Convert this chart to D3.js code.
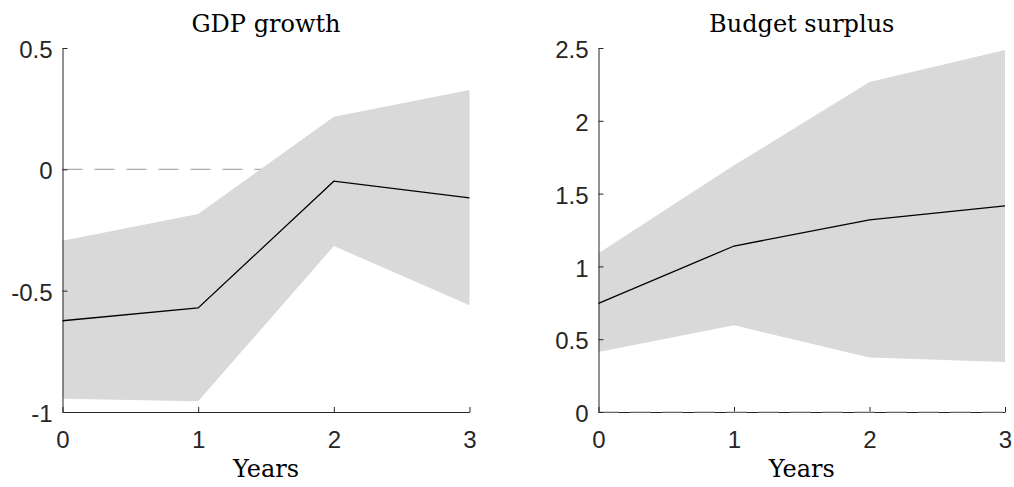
<!DOCTYPE html>
<html>
<head>
<meta charset="utf-8">
<script src="https://cdn.jsdelivr.net/npm/d3@7"></script>
<style>
  html, body { margin: 0; padding: 0; background: #fff; }
  svg { display: block; }
</style>
</head>
<body>
<svg id="chart" width="1014" height="487"></svg>
<script>
// ---- data ----
const years = [0, 1, 2, 3];
const xTicks = [0, 1, 2, 3];

const gdpMedian = [-0.624, -0.571, -0.049, -0.118];
const gdpUpper  = [-0.294, -0.184, 0.217, 0.327];
const gdpLower  = [-0.945, -0.956, -0.316, -0.560];
const gdpTicks  = [-1, -0.5, 0, 0.5];
const gdpDomain = [-1, 0.5];

const budMedian = [0.746, 1.140, 1.319, 1.415];
const budUpper  = [1.090, 1.694, 2.266, 2.486];
const budLower  = [0.412, 0.595, 0.375, 0.343];
const budTicks  = [0, 0.5, 1, 1.5, 2, 2.5];
const budDomain = [0, 2.5];

const titles = ["GDP growth", "Budget surplus"];
const xLabel = "Years";

// ---- drawing ----
const svg = d3.select("#chart");
const axisColor = "#262626";
const tickFont = "'Liberation Sans', Arial, sans-serif";
const serifFont = "'DejaVu Serif', serif";
const tickSize = 24;

const panels = [
  { title: titles[0], med: gdpMedian, up: gdpUpper, lo: gdpLower, ticks: gdpTicks, domain: gdpDomain, x0: 62.5, x1: 469.5 },
  { title: titles[1], med: budMedian, up: budUpper, lo: budLower, ticks: budTicks, domain: budDomain, x0: 598.5, x1: 1005 }
];
const yTop = 48, yBot = 412;

panels.forEach(p => {
  const g = svg.append("g");
  const x = d3.scaleLinear().domain([0, 3]).range([p.x0, p.x1]);
  const y = d3.scaleLinear().domain(p.domain).range([yBot, yTop]);

  // x axis (bottom), inward ticks
  const xAxis = g.append("g").attr("transform", `translate(0,${yBot})`)
    .call(d3.axisBottom(x).tickValues(xTicks).tickSize(-5).tickSizeOuter(0).tickPadding(0).tickFormat(d3.format("d")));
  xAxis.select(".domain").attr("stroke", axisColor).attr("stroke-width", 1);
  xAxis.selectAll(".tick line").attr("stroke", axisColor);
  xAxis.selectAll(".tick text")
    .attr("font-family", tickFont).attr("font-size", tickSize).attr("fill", axisColor)
    .attr("dy", null).attr("y", 36);

  // zero dashed line
  g.append("line")
    .attr("x1", p.x0).attr("x2", p.x1)
    .attr("y1", y(0)).attr("y2", y(0))
    .attr("stroke", "#aaaaaa").attr("stroke-width", 1.2)
    .attr("stroke-dasharray", "20,12");

  // band
  const area = d3.area()
    .x((d, i) => x(years[i]))
    .y0((d, i) => y(p.lo[i]))
    .y1((d, i) => y(p.up[i]));
  g.append("path").datum(years).attr("d", area).attr("fill", "#d9d9d9").attr("stroke", "none");

  // y axis (left), inward ticks
  const yAxis = g.append("g").attr("transform", `translate(${p.x0},0)`)
    .call(d3.axisLeft(y).tickValues(p.ticks).tickSize(-5).tickSizeOuter(0).tickPadding(0).tickFormat(d => String(d)));
  yAxis.select(".domain").attr("stroke", axisColor).attr("stroke-width", 1);
  yAxis.selectAll(".tick line").attr("stroke", axisColor);
  yAxis.selectAll(".tick text")
    .attr("font-family", tickFont).attr("font-size", tickSize).attr("fill", axisColor)
    .attr("x", -10).attr("dy", "0.4em");

  // median line
  const line = d3.line().x((d, i) => x(years[i])).y(d => y(d));
  g.append("path").datum(p.med).attr("d", line)
    .attr("fill", "none").attr("stroke", "#000").attr("stroke-width", 1.3);

  // title
  g.append("text")
    .attr("x", (p.x0 + p.x1) / 2).attr("y", 32)
    .attr("text-anchor", "middle")
    .attr("font-family", serifFont).attr("font-size", 24).attr("fill", "#000")
    .text(p.title);

  // x label
  g.append("text")
    .attr("x", (p.x0 + p.x1) / 2).attr("y", 477)
    .attr("text-anchor", "middle")
    .attr("font-family", serifFont).attr("font-size", 24).attr("fill", "#000")
    .text(xLabel);
});
</script>
</body>
</html>
